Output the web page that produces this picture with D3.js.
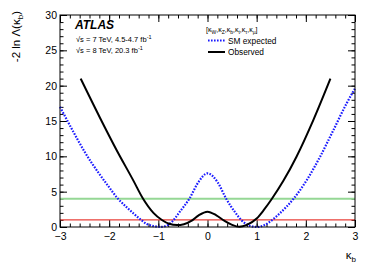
<!DOCTYPE html>
<html>
<head>
<meta charset="utf-8">
<script src="https://cdn.jsdelivr.net/npm/d3@7"></script>
<style>
  body { margin: 0; background: #fff; }
  svg text { font-family: "Liberation Sans", Arial, Helvetica, sans-serif; }
</style>
</head>
<body>
<svg id="chart" width="374" height="271"></svg>
<script>
// curves -------------------------------------------------
var kbExp  = [-3.0,-2.77,-2.5,-2.23,-2.02,-1.82,-1.63,-1.51,-1.37,-1.24,-1.1,-0.95,-0.83,-0.72,-0.57,-0.37,-0.18,0,0.2,0.38,0.56,0.7,0.85,1.02,1.15,1.27,1.47,1.75,2.02,2.29,2.56,2.83,3.0]
var nllExp = [17.0,14.0,10.65,7.8,5.8,4.0,2.7,1.95,1.1,0.45,0.12,0.02,0.2,0.75,2.1,4.0,6.4,7.6,6.4,4.0,2.1,0.9,0.2,0.0,0.25,0.75,1.93,4.0,6.65,9.95,13.7,17.5,19.6]

var kbObs  = [-2.58,-2.19,-1.85,-1.51,-1.31,-1.1,-0.92,-0.78,-0.62,-0.48,-0.32,-0.18,0,0.18,0.34,0.5,0.65,0.8,1.0,1.15,1.31,1.54,1.81,2.15,2.5]
var nllObs = [21.0,15.5,10.9,6.6,4.0,2.0,0.95,0.45,0.27,0.4,0.9,1.65,2.17,1.65,0.9,0.3,0.03,0.3,1.2,2.45,4.0,6.5,9.95,15.1,21.0]

var refLevels = [1, 4]
var xTicks = [-3, -2, -1, 0, 1, 2, 3]
var yTicks = [0, 5, 10, 15, 20, 25, 30]

var svg = d3.select("#chart"),
	margin = {top: 15, left: 60, bottom: 44, right: 19},
	W = +svg.attr("width"), H = +svg.attr("height")

var x = d3.scaleLinear().domain([-3, 3]).range([margin.left, W - margin.right])
var y = d3.scaleLinear().domain([0, 30]).range([H - margin.bottom, margin.top])

var xMinor = d3.range(-3, 3.001, 0.2).map(v => +v.toFixed(1))
var yMinor = d3.range(0, 31, 1)

function styleAxis(g) {
	g.select(".domain").remove()
	g.selectAll("line").attr("stroke", "#000").attr("stroke-width", 1)
	g.selectAll("text").attr("font-size", 10.5).attr("fill", "#000")
}

// bottom + top
svg.append("g").attr("transform", `translate(0,${y(0)})`)
	.call(d3.axisBottom(x).tickValues(xMinor).tickSize(-3.5).tickFormat(""))
	.call(styleAxis)
svg.append("g").attr("transform", `translate(0,${y(0)})`)
	.call(d3.axisBottom(x).tickValues(xTicks).tickSize(-7).tickPadding(5.5).tickFormat(d3.format("d")))
	.call(styleAxis)
svg.append("g").attr("transform", `translate(0,${y(30)})`)
	.call(d3.axisTop(x).tickValues(xMinor).tickSize(-3.5).tickFormat(""))
	.call(styleAxis)
svg.append("g").attr("transform", `translate(0,${y(30)})`)
	.call(d3.axisTop(x).tickValues(xTicks).tickSize(-7).tickFormat(""))
	.call(styleAxis)

// left + right
svg.append("g").attr("transform", `translate(${x(-3)},0)`)
	.call(d3.axisLeft(y).tickValues(yMinor).tickSize(-3.5).tickFormat(""))
	.call(styleAxis)
svg.append("g").attr("transform", `translate(${x(-3)},0)`)
	.call(d3.axisLeft(y).tickValues(yTicks).tickSize(-7).tickPadding(3).tickFormat(d3.format("d")))
	.call(styleAxis)
svg.append("g").attr("transform", `translate(${x(3)},0)`)
	.call(d3.axisRight(y).tickValues(yMinor).tickSize(-3.5).tickFormat(""))
	.call(styleAxis)
svg.append("g").attr("transform", `translate(${x(3)},0)`)
	.call(d3.axisRight(y).tickValues(yTicks).tickSize(-7).tickFormat(""))
	.call(styleAxis)

// reference lines
var refColors = {1: "#e8403a", 4: "#95d795"}
svg.selectAll(".ref")
	.data(refLevels)
.enter().append("line")
	.attr("class", "ref")
	.attr("x1", x(-3)).attr("x2", x(3))
	.attr("y1", d => y(d)).attr("y2", d => y(d))
	.attr("stroke", d => refColors[d])
	.attr("stroke-width", d => d == 4 ? 2 : 1.2)

var line = d3.line()
	.x(d => x(d[0]))
	.y(d => y(d[1]))
	.curve(d3.curveMonotoneX)

svg.append("path")
	.datum(d3.zip(kbExp, nllExp))
	.attr("fill", "none")
	.attr("stroke", "#1a1aff")
	.attr("stroke-width", 2.2)
	.attr("stroke-dasharray", "1.6,1.4")
	.attr("d", line)

svg.append("path")
	.datum(d3.zip(kbObs, nllObs))
	.attr("fill", "none")
	.attr("stroke", "#000")
	.attr("stroke-width", 2)
	.attr("d", line)

// frame
svg.append("rect")
	.attr("x", x(-3)).attr("y", y(30))
	.attr("width", x(3) - x(-3)).attr("height", y(0) - y(30))
	.attr("fill", "none").attr("stroke", "#000").attr("stroke-width", 1)

// axis titles
var yt = svg.append("text")
	.attr("transform", "translate(20,11) rotate(-90)")
	.attr("text-anchor", "end")
	.attr("font-size", 11.5)
yt.append("tspan").text("-2 ln \u039b(\u03ba")
yt.append("tspan").attr("font-size", 8).attr("dy", 3).text("b")
yt.append("tspan").attr("dy", -3).text(")")

var xt = svg.append("text")
	.attr("x", 356).attr("y", 259)
	.attr("text-anchor", "end")
	.attr("font-size", 11.5)
xt.append("tspan").text("\u03ba")
xt.append("tspan").attr("font-size", 8).attr("dy", 3).text("b")

// labels
svg.append("text")
	.attr("x", 75).attr("y", 29)
	.attr("font-size", 12).attr("font-weight", "bold").attr("font-style", "italic")
	.text("ATLAS")

var lumi = [["\u221as = 7 TeV, 4.5-4.7 fb", 42], ["\u221as = 8 TeV, 20.3 fb", 52.5]]
lumi.forEach(function(l) {
	var t = svg.append("text").attr("x", 76).attr("y", l[1]).attr("font-size", 7.5)
	t.append("tspan").text(l[0])
	t.append("tspan").attr("font-size", 5.5).attr("dy", -3).text("-1")
})

// legend
var hdr = svg.append("text").attr("x", 206).attr("y", 32).attr("font-size", 7)
var subs = ["W", "Z", "b", "t", "\u03c4", "\u03bc"]
hdr.append("tspan").text("[")
subs.forEach(function(s, i) {
	hdr.append("tspan").attr("dy", i ? -2 : 0).text((i ? "," : "") + "\u03ba")
	hdr.append("tspan").attr("font-size", 5).attr("dy", 2).text(s)
})
hdr.append("tspan").attr("dy", -2).text("]")

var legend = [["SM expected", "#1a1aff", "1.6,1.4", 40.5], ["Observed", "#000", null, 52]]
legend.forEach(function(l) {
	svg.append("line")
		.attr("x1", 208).attr("x2", 225)
		.attr("y1", l[3]).attr("y2", l[3])
		.attr("stroke", l[1]).attr("stroke-width", 2)
		.attr("stroke-dasharray", l[2])
	svg.append("text")
		.attr("x", 228).attr("y", l[3] + 3)
		.attr("font-size", 8.3)
		.text(l[0])
})
</script>
</body>
</html>
